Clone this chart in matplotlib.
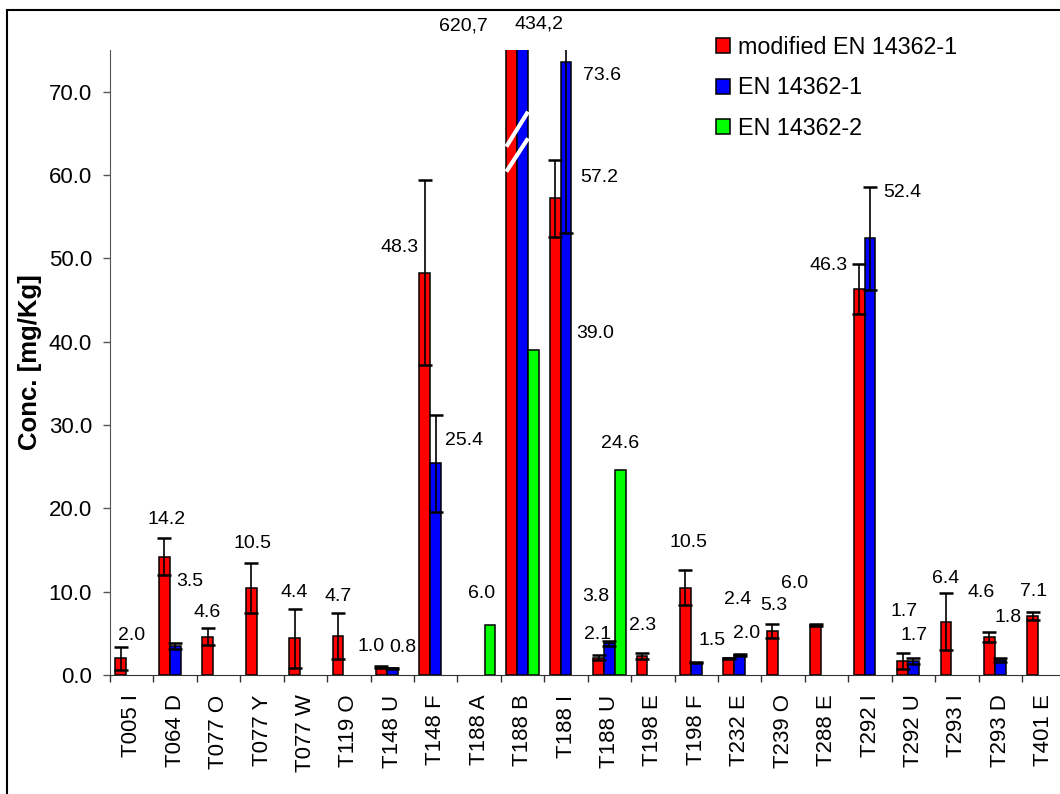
import numpy as np
import matplotlib
matplotlib.use('Agg')
import matplotlib.pyplot as plt
from matplotlib.patches import Rectangle

plt.rcParams['font.family'] = ['Liberation Sans', 'DejaVu Sans']

# 試料名と測定値
categories = ['T005 I', 'T064 D', 'T077 O', 'T077 Y', 'T077 W', 'T119 O', 'T148 U', 'T148 F',
              'T188 A', 'T188 B', 'T188 I', 'T188 U', 'T198 E', 'T198 F', 'T232 E', 'T239 O',
              'T288 E', 'T292 I', 'T292 U', 'T293 I', 'T293 D', 'T401 E']
nan = np.nan
modified = [2.0, 14.2, 4.6, 10.5, 4.4, 4.7, 1.0, 48.3, nan, 620.7, 57.2, 2.1, 2.3, 10.5,
            2.0, 5.3, 6.0, 46.3, 1.7, 6.4, 4.6, 7.1]
modified_err = [1.4, 2.2, 1.0, 3.0, 3.5, 2.8, 0.1, 11.1, nan, nan, 4.6, 0.3, 0.4, 2.1,
                0.1, 0.8, 0.1, 3.0, 1.0, 3.4, 0.6, 0.5]
en1 = [nan, 3.5, nan, nan, nan, nan, 0.8, 25.4, nan, 434.2, 73.6, 3.8, nan, 1.5,
       2.4, nan, nan, 52.4, 1.7, nan, 1.8, nan]
en1_err = [nan, 0.4, nan, nan, nan, nan, 0.1, 5.8, nan, nan, 20.5, 0.3, nan, 0.1,
           0.1, nan, nan, 6.2, 0.4, nan, 0.2, nan]
en2 = [nan, nan, nan, nan, nan, nan, nan, nan, 6.0, 39.0, nan, 24.6, nan, nan,
       nan, nan, nan, nan, nan, nan, nan, nan]
series_names = ['modified EN 14362-1', 'EN 14362-1', 'EN 14362-2']

# ラベルの位置（棒の上端からのずれ、ピクセル）
red_off = [(11, 23), (2, 37), (-1, 24), (1, 44), (0, 46), (0, 39), (-10, 20), (-25, 25), None,
           (-48, 24), (44, 21), (-1, 23), (1, 30), (3, 45), (18, 25), (1, 25), (-21, 42),
           (-31, 24), (1, 49), (0, 43), (-8, 44), (1, 24)]
blue_off = [None, (15, 64), None, None, None, None, (11, 21), (28, 23), None, (16, 26),
            (36, -14), (-14, 47), None, (16, 22), (-2, 55), None, None, (32, 46), (1, 25),
            None, (8, 43), None]
green_off = [None] * 8 + [(-8, 32), (62, 16), None, (0, 26)] + [None] * 10

W, H = 1060, 794
fig = plt.figure(figsize=(W / 100, H / 100), dpi=100)
ax_left, ax_right, ax_top, ax_bottom = 110, 1065.5, 50, 675
ax = fig.add_axes([ax_left / W, (H - ax_bottom) / H, (ax_right - ax_left) / W, (ax_bottom - ax_top) / H])

x = np.arange(len(categories))
w = 0.25
colors = ['#FF0000', '#0000FF', '#00FF00']
err_kw = dict(ecolor='black', elinewidth=1.2, capsize=4.7, capthick=1.8)
b1 = ax.bar(x - w, modified, w, color=colors[0], edgecolor='black', linewidth=1.1,
            yerr=modified_err, error_kw=err_kw, label=series_names[0], zorder=2)
b2 = ax.bar(x, en1, w, color=colors[1], edgecolor='black', linewidth=1.1,
            yerr=en1_err, error_kw=err_kw, label=series_names[1], zorder=2)
b3 = ax.bar(x + w, en2, w, color=colors[2], edgecolor='black', linewidth=1.1,
            label=series_names[2], zorder=2)

ymax = 75
ax.set_ylim(0, ymax)
ax.set_xlim(-0.5, len(categories) - 0.5)

# 値ラベル
for vals, offs, dx_bar in [(modified, red_off, -w), (en1, blue_off, 0), (en2, green_off, w)]:
    for i, (v, off) in enumerate(zip(vals, offs)):
        if off is None or np.isnan(v):
            continue
        txt = f'{v:.1f}'
        if v > ymax:
            txt = txt.replace('.', ',')
        ax.annotate(txt, (x[i] + dx_bar, min(v, ymax)), xytext=off, textcoords='offset pixels',
                    ha='center', va='center', fontsize=14, annotation_clip=False)

# 軸の切れ目（T188 B）
ib = categories.index('T188 B')
for y0, y1 in [(63.4, 67.6), (60.4, 64.4)]:
    ax.plot([x[ib] - 1.5 * w, x[ib] + 0.5 * w], [y0, y1], color='white', lw=3,
            solid_capstyle='butt', zorder=4)

ax.set_yticks(np.arange(0, 71, 10))
ax.set_yticklabels([f'{t:.1f}' for t in np.arange(0, 71, 10)], fontsize=16)
ax.set_xticks(x)
ax.set_xticklabels(categories, rotation=90, fontsize=16, va='top')
ax.set_xticks(np.arange(-0.5, len(categories), 1), minor=True)
ax.tick_params(axis='x', which='major', length=0, pad=14)
ax.tick_params(axis='x', which='minor', length=5, width=1, color='#333333', direction='out')
ax.tick_params(axis='y', length=5, width=1, color='#555555', pad=8)
ax.set_ylabel('Conc. [mg/Kg]', fontsize=18.5, fontweight='bold', va='center')
ax.yaxis.set_label_coords((30 - ax_left) / (ax_right - ax_left), 0.5)

ax.spines['top'].set_visible(False)
ax.spines['right'].set_visible(False)
ax.spines['left'].set_color('#555555')
ax.spines['bottom'].set_color('#333333')

fig.legend(handles=[b1.patches[0], b2.patches[1], b3.patches[8]], labels=series_names,
           loc='upper left', bbox_to_anchor=(716 / W, 1 - 36 / H), frameon=False, fontsize=16.8,
           handlelength=0.6, handleheight=0.6, handletextpad=0.33, labelspacing=0.75,
           borderpad=0, borderaxespad=0)

# 外枠
fig.add_artist(Rectangle((7 / W, -0.1), 1.2, 1 - 10 / H + 0.1, transform=fig.transFigure,
                         fill=False, edgecolor='black', linewidth=1.5))

fig.savefig('out.png', dpi=100)
